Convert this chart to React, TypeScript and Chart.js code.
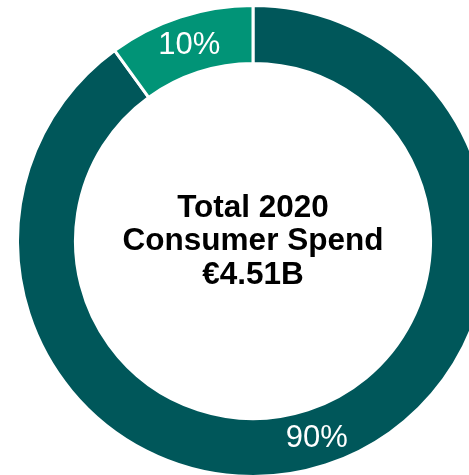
import React, { useEffect, useRef } from "react";
import { Chart, registerables } from "chart.js";

Chart.register(...registerables);

const categories = ["Segment A", "Segment B"];
const shares = [90, 10];
const shareLabels = ["90%", "10%"];
const sliceColors = ["#00575A", "#019477"];
const centerLines = ["Total 2020", "Consumer Spend", "€4.51B"];

const labelPlugin = {
  id: "labelPlugin",
  afterDatasetsDraw(chart: any) {
    const ctx = chart.ctx;
    const meta = chart.getDatasetMeta(0);
    ctx.save();
    ctx.fillStyle = "#ffffff";
    ctx.font = "31px 'Liberation Sans', Arial, sans-serif";
    ctx.textAlign = "center";
    ctx.textBaseline = "middle";
    meta.data.forEach((arc: any, i: number) => {
      const p = arc.tooltipPosition();
      ctx.fillText(shareLabels[i], p.x, p.y + 1);
    });
    const ca = chart.chartArea;
    const cx = (ca.left + ca.right) / 2;
    const cy = (ca.top + ca.bottom) / 2;
    ctx.fillStyle = "#000000";
    ctx.font = "bold 31.5px 'Liberation Sans', Arial, sans-serif";
    const lh = 33.5;
    centerLines.forEach((t, i) => {
      ctx.fillText(t, cx, cy + (i - 1) * lh + 0.5);
    });
    ctx.restore();
  },
};

export default function App() {
  const ref = useRef<HTMLCanvasElement | null>(null);
  useEffect(() => {
    if (!ref.current) return;
    const chart = new Chart(ref.current, {
      type: "doughnut",
      data: {
        labels: categories,
        datasets: [
          {
            data: shares,
            backgroundColor: sliceColors,
            borderColor: "#ffffff",
            borderWidth: 3,
            hoverBorderWidth: 3,
          },
        ],
      },
      options: {
        animation: false,
        responsive: true,
        maintainAspectRatio: false,
        cutout: "75.4%",
        layout: { padding: 0 },
        plugins: {
          legend: { display: false },
          tooltip: { enabled: false },
        },
        events: [],
      },
      plugins: [labelPlugin],
    });
    return () => chart.destroy();
  }, []);
  return (
    <div
      style={{
        position: "fixed",
        left: 0,
        top: 0,
        width: 469,
        height: 475,
        overflow: "hidden",
        background: "#ffffff",
      }}
    >
      <div style={{ position: "absolute", left: 16, top: 4, width: 474, height: 474 }}>
        <canvas ref={ref} />
      </div>
    </div>
  );
}
